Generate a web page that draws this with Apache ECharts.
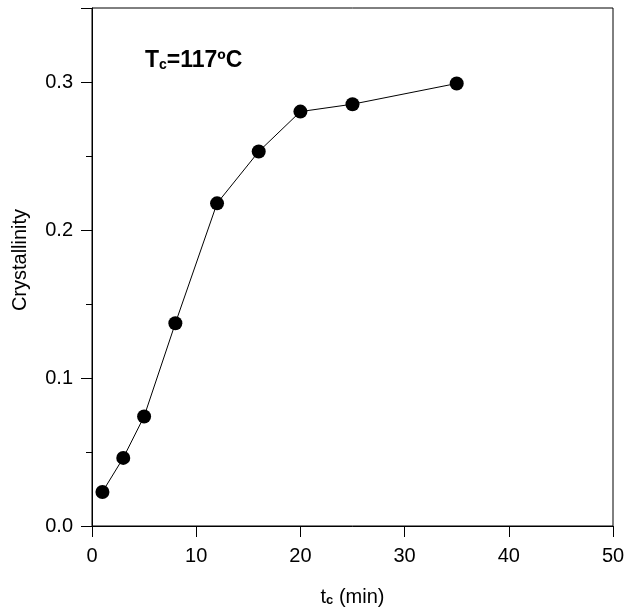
<!DOCTYPE html>
<html>
<head>
<meta charset="utf-8">
<script src="https://cdn.jsdelivr.net/npm/echarts@6/dist/echarts.min.js"></script>
<style>html,body{margin:0;padding:0;background:#fff;}#c{width:625px;height:609px;}</style>
</head>
<body>
<div id="c"></div>
<script>
var timeMin = [1, 3, 5, 8, 12, 16, 20, 25, 35];
var crystallinity = [0.023, 0.046, 0.074, 0.137, 0.218, 0.253, 0.280, 0.285, 0.299];
var xTicks = [0, 10, 20, 30, 40, 50];
var yTicks = [0.0, 0.1, 0.2, 0.3];

var FONT = '"Liberation Sans", Arial, sans-serif';
var chart = echarts.init(document.getElementById('c'));
var pts = timeMin.map(function (t, i) { return [t, crystallinity[i]]; });

chart.setOption({
  animation: false,
  backgroundColor: '#fff',
  grid: { left: 92, right: 12, top: 8, bottom: 83, show: true, borderColor: '#000', borderWidth: 1,
          containLabel: false, outerBoundsMode: 'none' },
  xAxis: {
    type: 'value', min: 0, max: 50, interval: 10,
    axisLine: { show: true, onZero: false, lineStyle: { color: '#000', width: 1 } },
    axisTick: { show: true, inside: false, length: 11, lineStyle: { color: '#000' } },
    splitLine: { show: false },
    axisLabel: { color: '#000', fontFamily: FONT, fontSize: 20, margin: 20,
      formatter: function (v) { return xTicks.indexOf(v) >= 0 ? String(v) : ''; } },
    name: '{a|t}{s|c}{a| (min)}',
    nameLocation: 'middle', nameGap: 59,
    nameTextStyle: { rich: {
      a: { fontFamily: FONT, fontSize: 20, color: '#000', lineHeight: 22, verticalAlign: 'bottom' },
      s: { fontFamily: FONT, fontSize: 13, fontWeight: 'bold', color: '#000', lineHeight: 11, verticalAlign: 'bottom' }
    } }
  },
  yAxis: [{
    type: 'value', min: 0, max: 0.35, interval: 0.05,
    axisLine: { show: true, onZero: false, lineStyle: { color: '#000', width: 1 } },
    axisTick: { show: true, inside: false, length: 6, lineStyle: { color: '#000' } },
    splitLine: { show: false },
    axisLabel: { color: '#000', fontFamily: FONT, fontSize: 20, margin: 19,
      formatter: function (v) {
        for (var i = 0; i < yTicks.length; i++) if (Math.abs(v - yTicks[i]) < 1e-9) return yTicks[i].toFixed(1);
        return '';
      } },
    name: 'Crystallinity', nameLocation: 'middle', nameGap: 62,
    nameTextStyle: { fontFamily: FONT, fontSize: 20, color: '#000', padding: [0, 0, 0, 14] }
  }, {
    type: 'value', min: 0, max: 0.35, interval: 0.1, position: 'left',
    axisLine: { show: false }, splitLine: { show: false }, axisLabel: { show: false },
    axisTick: { show: true, inside: false, length: 11, lineStyle: { color: '#000' } }
  }],
  graphic: [
    { type: 'text', left: 145, top: 49, style: {
      text: '{a|T}{s|c}{a|=117ºC}',
      rich: {
        a: { fontFamily: FONT, fontSize: 23, fontWeight: 'bold', fill: '#000', lineHeight: 26, verticalAlign: 'bottom' },
        s: { fontFamily: FONT, fontSize: 14, fontWeight: 'bold', fill: '#000', lineHeight: 12, verticalAlign: 'bottom' }
      } } }
  ],
  series: [
    { type: 'line', data: pts, symbol: 'circle', symbolSize: 14,
      lineStyle: { color: '#000', width: 1 }, itemStyle: { color: '#000' } }
  ]
});
</script>
</body>
</html>
